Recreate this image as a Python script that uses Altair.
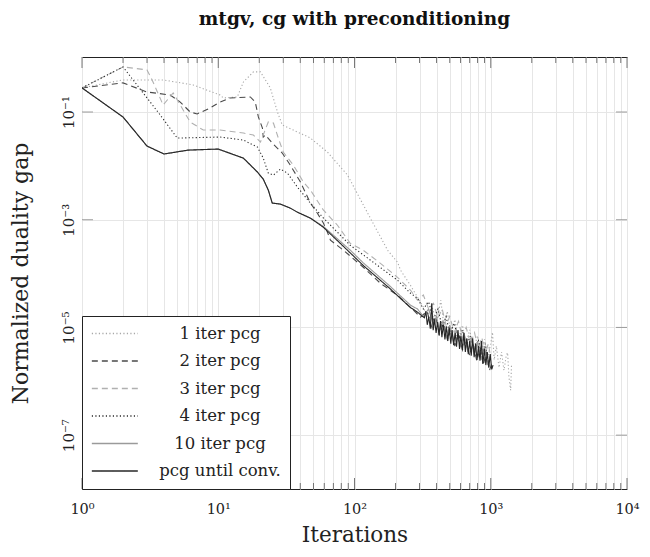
import altair as alt
import pandas as pd

series_names = ["1 iter pcg", "2 iter pcg", "3 iter pcg", "4 iter pcg", "10 iter pcg", "pcg until conv."]
series_colors = ["#a8a8a8", "#4a4a4a", "#b0b0b0", "#2a2a2a", "#9a9a9a", "#262626"]
series_dashes = [[1.2, 2.3], [6, 4], [6, 4], [1.2, 2.3], [1, 0], [1, 0]]

# 1 iter pcg
x1 = [1, 2, 3.94, 6.54, 10.3, 10.9, 13.8, 15.3, 18.1, 20.4, 24.1, 27.2, 29.5, 35.6, 47.5, 63.3, 88.9, 125, 175, 207, 218, 258, 322,
      340, 370, 400, 430, 455, 480, 510, 545, 580, 620, 660, 700, 750, 800, 850, 900, 950, 1000, 1030, 1060, 1100, 1150, 1200,
      1250, 1300, 1330, 1360, 1400, 1420]
y1 = [0.28, 0.394, 0.394, 0.318, 0.207, 0.182, 0.19, 0.361, 0.555, 0.555, 0.28, 0.1, 0.0573, 0.0462, 0.0328, 0.018, 0.00673,
      0.00132, 0.000271, 0.000162, 0.000115, 6.0e-5, 2.34e-5,
      1.6e-5, 2.5e-5, 1.2e-5, 3.2e-5, 1.0e-5, 2.0e-5, 7.5e-6, 1.4e-5, 6e-6, 1.1e-5, 5e-6, 9e-6, 4e-6, 7e-6, 3.2e-6, 6e-6,
      2.8e-6, 5e-6, 8.1e-6, 2.5e-6, 4.5e-6, 1.8e-6, 3.5e-6, 1.6e-6, 3.0e-6, 3.4e-6, 1.2e-6, 6.8e-7, 2.0e-6]

# 2 iter pcg
x2 = [1, 2, 3, 4.44, 5.26, 6.22, 7.0, 8.73, 10, 12.2, 17.2, 18.7, 19.7, 21.1, 21.4, 22.2, 24.9, 29.5, 33.8, 40.1, 47.5, 53.4,
      59.2, 63.3, 66.6, 83, 116, 155, 207, 272, 305,
      340, 370, 395, 420, 450, 480, 510, 545, 580, 620, 660, 700, 740, 790, 840, 880, 930, 980, 1020]
y2 = [0.28, 0.347, 0.235, 0.207, 0.153, 0.1, 0.092, 0.119, 0.147, 0.182, 0.19, 0.153, 0.081, 0.0504, 0.0343, 0.0373, 0.0265,
      0.0173, 0.0103, 0.005, 0.00203, 0.00132, 0.00086, 0.000585, 0.000417, 0.000271, 0.000131, 6.6e-5, 3.94e-5, 2.07e-5, 1.55e-5,
      2.0e-5, 1.0e-5, 1.6e-5, 7.5e-6, 1.2e-5, 6.0e-6, 9.5e-6, 4.5e-6, 8e-6, 3.8e-6, 6.5e-6, 3.0e-6, 5.0e-6, 2.4e-6, 4.2e-6,
      2.0e-6, 3.5e-6, 1.6e-6, 2.2e-6]

# 3 iter pcg
x3 = [1, 2, 3, 3.27, 3.94, 4.67, 6.22, 7.76, 10.3, 15.3, 18.1, 20.4, 23.3, 25.4, 27.6, 30.0, 35.6, 42.2, 47.5, 59.2, 75, 93,
      116, 155, 207, 258,
      290, 320, 350, 380, 410, 440, 470, 500, 540, 580, 620, 660, 710, 760, 810, 860, 910, 960, 1000]
y3 = [0.28, 0.687, 0.604, 0.394, 0.135, 0.226, 0.0652, 0.0462, 0.0462, 0.0407, 0.0373, 0.0277, 0.0652, 0.0624, 0.0328, 0.018,
      0.0103, 0.005, 0.00354, 0.0015, 0.00079, 0.000366, 0.000271, 0.000155, 8.5e-5, 4.9e-5,
      3.2e-5, 4.0e-5, 2.2e-5, 2.8e-5, 1.5e-5, 2.2e-5, 1.1e-5, 1.6e-5, 8e-6, 1.3e-5, 6.5e-6, 1.0e-5, 5e-6, 8e-6, 4e-6, 6.5e-6,
      3.2e-6, 5e-6, 2.8e-6]

# 4 iter pcg
x4 = [1, 2, 3.75, 5.0, 10.3, 15.3, 19.4, 21.4, 23.3, 25.4, 28.6, 32.2, 38.1, 47.5, 59.2, 75, 93, 131, 207, 258,
      290, 320, 350, 380, 410, 440, 470, 500, 540, 580, 620, 660, 710, 760, 810, 860, 910, 960, 1000]
y4 = [0.28, 0.687, 0.088, 0.0328, 0.0343, 0.0301, 0.0223, 0.0139, 0.00733, 0.00673, 0.0087, 0.00733, 0.00403, 0.00203, 0.00107,
      0.000585, 0.000336, 0.000177, 7.5e-5, 4.3e-5,
      3.5e-5, 2.2e-5, 3.0e-5, 1.4e-5, 2.2e-5, 1.0e-5, 1.6e-5, 7.5e-6, 1.2e-5, 5.5e-6, 9e-6, 4.5e-6, 7e-6, 3.5e-6, 6e-6,
      2.8e-6, 5e-6, 2.2e-6, 3e-6]

# 10 iter pcg
x10 = [1, 2, 3, 4, 6, 10, 15.3, 19.4, 21.4, 23.3, 24.9, 28.6, 33.8, 38.1, 47.5, 59.1, 93.4, 116, 180, 257,
       290, 320, 350, 380, 400, 420, 445, 470, 500, 530, 560, 600, 640, 680, 720, 760, 800, 850, 900, 950, 1000]
y10 = [0.28, 0.0807, 0.0233, 0.0166, 0.0196, 0.0205, 0.0139, 0.00766, 0.00566, 0.00355, 0.00204, 0.00195, 0.00164, 0.00138,
       0.00107, 0.00075, 0.00027, 0.000158, 6.0e-5, 2.6e-5,
       2.2e-5, 1.6e-5, 2.2e-5, 1.1e-5, 1.6e-5, 8.5e-6, 1.3e-5, 6.5e-6, 1.1e-5, 5.5e-6, 9e-6, 4.5e-6, 7.5e-6, 3.5e-6, 6.5e-6,
       3.0e-6, 5.5e-6, 2.5e-6, 4.5e-6, 2.0e-6, 3.2e-6]

# pcg until conv.
xc = [1, 2, 3, 4, 6, 10, 15.3, 19.4, 21.4, 23.3, 24.9, 28.6, 33.8, 38.1, 47.5, 59.1, 93.4, 116, 180, 257,
      265, 280, 295, 310, 326, 334, 342, 351, 360, 369, 378, 387, 397, 407, 417, 428, 438, 449, 461, 472, 484, 496, 509,
      521, 534, 548, 561, 575, 590, 604, 620, 635, 651, 667, 684, 701, 719, 737, 755, 774, 793, 813, 834, 855, 876, 898,
      920, 943, 967, 991, 1016, 1040]
yc = [0.28, 0.0807, 0.0233, 0.0166, 0.0196, 0.0205, 0.0139, 0.00766, 0.00566, 0.00355, 0.00204, 0.00195, 0.00164, 0.00138,
      0.00107, 0.000724, 0.00024, 0.000141, 5.4e-5, 2.34e-5,
      2.24e-5, 2.04e-5, 1.86e-5, 1.66e-5, 1.51e-5, 2.0e-5, 1.12e-5, 1.58e-5, 9.5e-6, 2.82e-5, 8.9e-6, 1.41e-5, 7.9e-6,
      1.26e-5, 7.1e-6, 1.32e-5, 6.6e-6, 1.12e-5, 6.0e-6, 1.05e-5, 5.6e-6, 1.0e-5, 5.0e-6, 8.9e-6, 4.7e-6, 7.9e-6, 4.4e-6,
      8.9e-6, 4.0e-6, 7.1e-6, 3.8e-6, 7.9e-6, 3.5e-6, 6.3e-6, 3.2e-6, 5.6e-6, 3.0e-6, 6.3e-6, 2.8e-6, 5.0e-6, 2.5e-6,
      4.5e-6, 2.4e-6, 5.6e-6, 2.1e-6, 4.0e-6, 2.0e-6, 3.5e-6, 1.78e-6, 3.2e-6, 1.66e-6, 2.0e-6]

y_tick_values = [1e-7, 1e-5, 1e-3, 1e-1]

all_x = [x1, x2, x3, x4, x10, xc]
all_y = [y1, y2, y3, y4, y10, yc]
rows = []
for name, xs, ys in zip(series_names, all_x, all_y):
    for i, (xv, yv) in enumerate(zip(xs, ys)):
        rows.append({"series": name, "it": xv, "gap": yv, "order": i})
df = pd.DataFrame(rows)

W, H = 545, 432
FONT = "DejaVu Serif"
xscale = alt.Scale(type="log", domain=[1, 10000], nice=False)
yscale = alt.Scale(type="log", domain=[1e-8, 1.05], nice=False)

x_major = [1, 10, 100, 1000, 10000]
x_minor = [m * 10 ** d for d in range(4) for m in range(1, 10)] + [10000]

sup = ["\u2070", "\u00b9", "\u00b2", "\u00b3", "\u2074", "\u2075", "\u2076", "\u2077", "\u2078"]
label_expr_x = ("abs(log(datum.value)/LN10 - round(log(datum.value)/LN10)) < 0.001 ? "
                "'10' + " + str(sup) + "[round(log(datum.value)/LN10)] : ''")
label_expr_y = "'10\u207b' + " + str(sup) + "[round(-log(datum.value)/LN10)]"

xaxis = alt.Axis(values=x_minor, labelExpr=label_expr_x, ticks=False, domain=False, grid=True,
                 gridColor="#e6e6e6", gridWidth=1, labelFont=FONT, labelFontSize=14.5, labelPadding=13,
                 labelColor="#222", title="Iterations", titleFont=FONT, titleFontSize=21.5,
                 titleFontWeight="normal", titleColor="#222", titlePadding=9, labelFlush=False,
                 labelOverlap=False)
yaxis = alt.Axis(values=y_tick_values, labelExpr=label_expr_y, ticks=False, domain=False, grid=True,
                 gridColor="#e6e6e6", gridWidth=1, labelFont=FONT, labelFontSize=15, labelAngle=-90,
                 labelAlign="center", labelBaseline="bottom", labelPadding=6, labelColor="#222",
                 title="Normalized duality gap", titleFont=FONT, titleFontSize=22,
                 titleFontWeight="normal", titleColor="#222", titlePadding=29)

legend = alt.Legend(title=None, orient="bottom-left", offset=0, padding=9,
                    strokeColor="#222", fillColor="white", symbolType="M-1,0H5",
                    symbolSize=235, symbolStrokeWidth=1.3, labelFont=FONT,
                    labelFontSize=16.5, labelColor="#222", labelAlign="center",
                    labelOffset=112, rowPadding=10.5, cornerRadius=0)

lines = alt.Chart(df).mark_line(strokeWidth=1.1, clip=True).encode(
    x=alt.X("it:Q", scale=xscale, axis=xaxis),
    y=alt.Y("gap:Q", scale=yscale, axis=yaxis),
    color=alt.Color("series:N", scale=alt.Scale(domain=series_names, range=series_colors), sort=series_names,
                    legend=legend),
    strokeDash=alt.StrokeDash("series:N", scale=alt.Scale(domain=series_names, range=series_dashes),
                              sort=series_names, legend=legend),
    order="order:Q",
)

xt_major = pd.DataFrame({"tv": x_major})
xt_minor = pd.DataFrame({"tv": [v for v in x_minor if v not in x_major]})
yt = pd.DataFrame({"tv": y_tick_values})

def xticks(data, y0, y1v):
    return alt.Chart(data).mark_rule(color="#555", strokeWidth=0.8).encode(
        x=alt.X("tv:Q", scale=xscale, axis=xaxis), y=alt.value(y0), y2=alt.value(y1v))

def yticks(x0, x1v):
    return alt.Chart(yt).mark_rule(color="#888", strokeWidth=0.8).encode(
        y=alt.Y("tv:Q", scale=yscale, axis=yaxis), x=alt.value(x0), x2=alt.value(x1v))

chart = alt.layer(
    lines,
    xticks(xt_major, H, H - 11), xticks(xt_minor, H, H - 6),
    xticks(xt_major, 0, 11), xticks(xt_minor, 0, 6),
    yticks(0, 11), yticks(W, W - 11),
).properties(
    width=W, height=H,
    title=alt.TitleParams("mtgv, cg with preconditioning", font=FONT, fontSize=18.5, fontWeight="bold",
                          color="#111", anchor="middle", offset=28),
    autosize=alt.AutoSizeParams(type="none"),
    padding={"left": 74, "top": 49, "right": 15, "bottom": 60},
).configure_view(stroke="#222", strokeWidth=1)

chart.save("out.html", embed_options={"renderer": "svg", "actions": False})
